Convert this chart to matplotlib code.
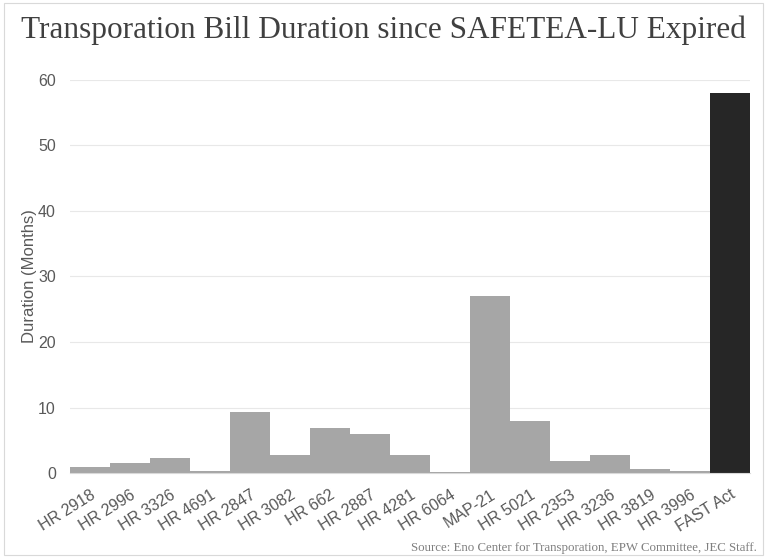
import matplotlib.pyplot as plt
import numpy as np
from matplotlib.patches import Rectangle

BILLS = [
    "HR 2918", "HR 2996", "HR 3326", "HR 4691", "HR 2847", "HR 3082",
    "HR 662", "HR 2887", "HR 4281", "HR 6064", "MAP-21", "HR 5021",
    "HR 2353", "HR 3236", "HR 3819", "HR 3996", "FAST Act",
]
MONTHS = [1.0, 1.5, 2.3, 0.3, 9.3, 2.8, 6.9, 6.0, 2.8, 0.15, 27.0, 8.0,
          1.8, 2.8, 0.7, 0.4, 58.0]
Y_TICKS = [0, 10, 20, 30, 40, 50, 60]

BAR_GREY = "#a6a6a6"
BAR_DARK = "#262626"
TEXT_GREY = "#595959"

fig = plt.figure(figsize=(7.67, 5.58), dpi=100)
ax = fig.add_axes([0.091, 0.152, 0.887, 0.705])

colors = [BAR_DARK if b == "FAST Act" else BAR_GREY for b in BILLS]
x = np.arange(len(BILLS))
ax.bar(x, MONTHS, width=1.0, color=colors, zorder=2)

ax.set_xlim(-0.5, len(BILLS) - 0.5)
ax.set_ylim(0, 60)
ax.set_yticks(Y_TICKS)
ax.set_xticks(x)
ax.set_xticklabels(BILLS, rotation=32, ha="right", rotation_mode="anchor",
                   family="Liberation Sans", fontsize=11.5, color=TEXT_GREY)
for lab in ax.get_yticklabels():
    lab.set_family("Liberation Sans")
    lab.set_fontsize(11.5)
    lab.set_color(TEXT_GREY)
ax.tick_params(axis="y", length=0, pad=10)
ax.tick_params(axis="x", length=0, pad=10)
ax.grid(axis="y", color="#e8e8e8", linewidth=0.8, zorder=0)
for side in ("top", "right", "left"):
    ax.spines[side].set_visible(False)
ax.spines["bottom"].set_color("#d9d9d9")

ax.set_ylabel("Duration (Months)", family="Liberation Sans", fontsize=12,
              color=TEXT_GREY, labelpad=1)

fig.text(0.5, 0.945, "Transporation Bill Duration since SAFETEA-LU Expired",
         ha="center", va="center", family="Liberation Serif", fontsize=22.5,
         color="#404040")
fig.text(0.987, 0.018, "Source: Eno Center for Transporation, EPW Committee, JEC Staff.",
         ha="right", va="center", family="Liberation Serif", fontsize=9.3,
         color="#7f7f7f")

fig.patches.append(Rectangle((0.005, 0.005), 0.99, 0.99, transform=fig.transFigure,
                             fill=False, edgecolor="#d9d9d9", linewidth=0.8))

fig.savefig("out.png", dpi=100)
